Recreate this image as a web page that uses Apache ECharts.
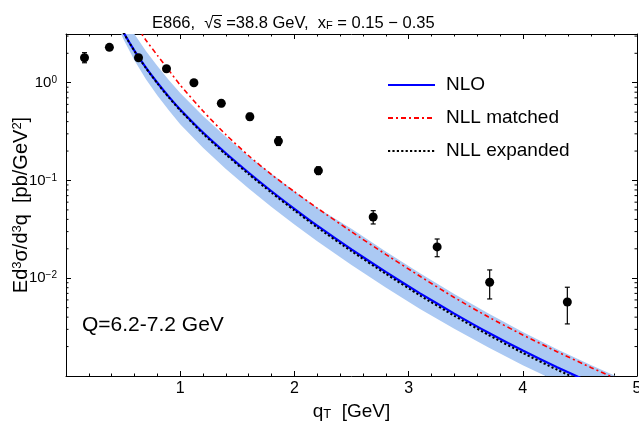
<!DOCTYPE html>
<html><head><meta charset="utf-8">
<script src="https://cdn.jsdelivr.net/npm/echarts@6/dist/echarts.min.js"></script>
<style>html,body{margin:0;padding:0;background:#fff}#c{width:639px;height:422px}</style>
</head><body><div id="c"></div>
<script>
// ---- data ----
const qT        = [0.45, 0.5, 0.6, 0.7, 0.8, 0.9, 1.0, 1.2, 1.4, 1.6, 1.8, 2.0, 2.2, 2.5, 2.8, 3.1, 3.4, 3.7, 4.0, 4.3, 4.6, 4.9];
const nlo       = [4.34, 3.33, 2.12, 1.43, 1.00, 0.721, 0.532, 0.309, 0.190, 0.120, 0.0776, 0.0513, 0.0345, 0.0197, 0.0116, 0.00700, 0.00435, 0.00277, 0.00182, 0.00123, 0.000851, 0.000603];
const nllExp    = [4.30, 3.30, 2.10, 1.41, 0.985, 0.708, 0.521, 0.301, 0.184, 0.116, 0.0748, 0.0494, 0.0331, 0.0189, 0.0111, 0.00666, 0.00413, 0.00263, 0.00172, 0.00116, 0.000804, 0.000570];
const nllMatch  = [8.07, 6.34, 4.05, 2.72, 1.905, 1.343, 0.946, 0.513, 0.294, 0.179, 0.1148, 0.0767, 0.0522, 0.0299, 0.01754, 0.01047, 0.00635, 0.00401, 0.00263, 0.001774, 0.001216, 0.000851];
const bandUpper = [6.27, 4.86, 3.14, 2.11, 1.479, 1.067, 0.787, 0.457, 0.2805, 0.177, 0.1175, 0.0776, 0.0525, 0.0320, 0.01879, 0.01122, 0.00689, 0.00435, 0.00282, 0.00188, 0.001288, 0.000902];
const bandLower = [3.86, 2.83, 1.687, 1.084, 0.741, 0.522, 0.377, 0.2163, 0.1312, 0.0828, 0.0537, 0.0355, 0.0239, 0.01365, 0.00802, 0.00484, 0.00304, 0.00196, 0.001288, 0.000879, 0.000617, 0.000437];

const dataQ     = [0.162, 0.38, 0.635, 0.88, 1.12, 1.36, 1.61, 1.86, 2.21, 2.69, 3.25, 3.71, 4.39];
const dataVal   = [1.80, 2.30, 1.80, 1.39, 1.00, 0.615, 0.449, 0.253, 0.126, 0.0423, 0.0209, 0.0091, 0.00571];
const dataLo    = [1.60, 2.19, 1.72, 1.30, 0.95, 0.57, 0.415, 0.228, 0.115, 0.0359, 0.0166, 0.00614, 0.00341];
const dataHi    = [2.03, 2.42, 1.89, 1.49, 1.05, 0.66, 0.487, 0.280, 0.138, 0.0491, 0.0252, 0.01216, 0.00809];

const yMinorTicks = [0.002,0.003,0.004,0.005,0.006,0.007,0.008,0.009,
                     0.02,0.03,0.04,0.05,0.06,0.07,0.08,0.09,
                     0.2,0.3,0.4,0.5,0.6,0.7,0.8,0.9,2,3];
const xTickLabels = ['', '1', '2', '3', '4', '5'];
const seriesNames = ['NLO', 'NLL matched', 'NLL expanded'];

// ---- chart ----
const FONT = 'Liberation Sans, Arial, Helvetica, sans-serif';
const chart = echarts.init(document.getElementById('c'), null, {renderer: 'canvas'});
const X_MIN = 0, X_MAX = 5, Y_MIN = 0.001, Y_MAX = 3.15;

const supRich = {
  base: {fontSize: 15, fontFamily: FONT, color: '#000'},
  sup: {fontSize: 10, fontFamily: FONT, color: '#000', verticalAlign: 'top', lineHeight: 10, padding: [0,0,6,0]}
};

function zip3(a, b, c) { return a.map((v, i) => [v, b[i], c[i]]); }

const xAxisCommon = {
  type: 'value', min: X_MIN, max: X_MAX, interval: 1,
  axisLine: {show: true, onZero: false, lineStyle: {color: '#000', width: 1}},
  axisTick: {show: true, inside: true, length: 5, lineStyle: {color: '#000'}},
  minorTick: {show: true, splitNumber: 5, length: 2.5, lineStyle: {color: '#000'}},
  splitLine: {show: false}, minorSplitLine: {show: false}
};
const yAxisCommon = {
  type: 'log', logBase: 10, min: Y_MIN, max: Y_MAX,
  axisLine: {show: true, onZero: false, lineStyle: {color: '#000', width: 1}},
  axisTick: {show: true, inside: true, length: 5, lineStyle: {color: '#000'}},
  splitLine: {show: false}
};

function fmtLog(v) {
  const e = Math.round(Math.log10(v));
  if (Math.abs(v - Math.pow(10, e)) / Math.pow(10, e) > 1e-6) return '';
  if (e < -2 || e > 0) return '';
  const s = e < 0 ? '\u2212' + (-e) : String(e);
  return '{base|10}{sup|' + s + '}';
}

const option = {
  animation: false,
  backgroundColor: '#fff',
  grid: {left: 66, right: 2, top: 34, bottom: 46, containLabel: false, outerBoundsMode: 'none'},
  legend: {
    data: seriesNames, orient: 'vertical', left: 382, top: 70,
    itemWidth: 47, itemHeight: 12, itemGap: 13,
    itemStyle: {opacity: 0},
    textStyle: {fontSize: 19, fontFamily: FONT, color: '#000', lineHeight: 20, padding: [0,0,0,6]},
    selectedMode: false
  },
  xAxis: [
    Object.assign({}, xAxisCommon, {
      position: 'bottom',
      axisLabel: {show: true, color: '#000', fontSize: 16, fontFamily: FONT, margin: 5,
                  formatter: v => xTickLabels[Math.round(v)] || ''},
      name: 'q{sub|T}  [GeV]', nameLocation: 'middle', nameGap: 21,
      nameTextStyle: {fontSize: 19, fontFamily: FONT, color: '#000',
        rich: {sub: {fontSize: 13, fontFamily: FONT, color: '#000', verticalAlign: 'bottom', lineHeight: 13, padding: [6,0,0,0]}}}
    }),
    Object.assign({}, xAxisCommon, {position: 'top', axisLabel: {show: false}})
  ],
  yAxis: [
    Object.assign({}, yAxisCommon, {
      position: 'left',
      axisLabel: {show: true, margin: 9, formatter: fmtLog, rich: supRich},
      name: 'Ed{sup|3}\u03c3/d{sup|3}q  [pb/GeV{sup|2}]', nameLocation: 'middle', nameRotate: 90, nameGap: 35,
      nameMoveOverlap: false,
      nameTextStyle: {fontSize: 20, fontFamily: FONT, color: '#000',
        rich: {sup: {fontSize: 13, fontFamily: FONT, color: '#000', verticalAlign: 'top', lineHeight: 13, padding: [0,0,6,0]}}}
    }),
    Object.assign({}, yAxisCommon, {position: 'right', axisLabel: {show: false}})
  ],
  graphic: [
    {type: 'text', x: 152, y: 23, z: 100,
     style: {text: 'E866,  \u221as =38.8 GeV,  x{sub|F} = 0.15 \u2212 0.35', fontSize: 16.5, fontFamily: FONT, fill: '#000',
       align: 'left', verticalAlign: 'middle',
       rich: {sub: {fontSize: 11, fontFamily: FONT, fill: '#000', verticalAlign: 'bottom', lineHeight: 11, padding: [6,0,0,0]}}}},
    {type: 'line', z: 100, shape: {x1: 212.5, y1: 15.5, x2: 222, y2: 15.5}, style: {stroke: '#000', lineWidth: 1}},
    {type: 'text', x: 82, y: 325, z: 100,
     style: {text: 'Q=6.2-7.2 GeV', fontSize: 21, fontFamily: FONT, fill: '#000', verticalAlign: 'middle'}}
  ],
  series: [
    { // uncertainty band
      type: 'custom', name: 'band', silent: true, clip: true, z: 1,
      encode: {x: 0, y: [1, 2]},
      data: zip3(qT, bandLower, bandUpper),
      renderItem: function (params, api) {
        if (params.dataIndex !== 0) return null;
        const pts = [];
        for (let i = 0; i < qT.length; i++) pts.push(api.coord([qT[i], bandUpper[i]]));
        for (let i = qT.length - 1; i >= 0; i--) pts.push(api.coord([qT[i], bandLower[i]]));
        return {type: 'polygon', shape: {points: pts}, style: {fill: '#abc9f3', stroke: null}};
      }
    },
    {type: 'line', name: 'NLO', data: qT.map((x, i) => [x, nlo[i]]), symbol: 'none', showSymbol: false,
     smooth: 0.2, clip: true, z: 3, lineStyle: {color: '#0000ff', width: 2.2}, itemStyle: {color: '#0000ff'}},
    {type: 'line', name: 'NLL matched', data: qT.map((x, i) => [x, nllMatch[i]]), symbol: 'none', showSymbol: false,
     smooth: 0.2, clip: true, z: 3, lineStyle: {color: '#ff0000', width: 1.6, type: [5, 3, 2, 3]}, itemStyle: {color: '#ff0000'}},
    {type: 'line', name: 'NLL expanded', data: qT.map((x, i) => [x, nllExp[i]]), symbol: 'none', showSymbol: false,
     smooth: 0.2, clip: true, z: 4, lineStyle: {color: '#000', width: 2, type: [2.2, 2.2]}, itemStyle: {color: '#000'}},
    { // error bars
      type: 'custom', name: 'errors', silent: true, z: 5,
      encode: {x: 0, y: [1, 2]},
      data: zip3(dataQ, dataLo, dataHi),
      renderItem: function (params, api) {
        const x = api.value(0), top = api.coord([x, api.value(2)]), bot = api.coord([x, api.value(1)]);
        const c = 2.5, st = {stroke: '#000', lineWidth: 1.2};
        return {type: 'group', children: [
          {type: 'line', shape: {x1: top[0], y1: top[1], x2: bot[0], y2: bot[1]}, style: st},
          {type: 'line', shape: {x1: top[0] - c, y1: top[1], x2: top[0] + c, y2: top[1]}, style: st},
          {type: 'line', shape: {x1: bot[0] - c, y1: bot[1], x2: bot[0] + c, y2: bot[1]}, style: st}
        ]};
      }
    },
    {type: 'scatter', name: 'E866', data: dataQ.map((x, i) => [x, dataVal[i]]), symbol: 'circle', symbolSize: 9,
     z: 6, itemStyle: {color: '#000', opacity: 1}, silent: true},
    { // log minor ticks, left and right frame
      type: 'custom', name: 'minor', silent: true, z: 7,
      encode: {x: 0, y: 1},
      data: yMinorTicks.map(v => [X_MIN, v]),
      renderItem: function (params, api) {
        const v = api.value(1), l = api.coord([X_MIN, v]), r = api.coord([X_MAX, v]);
        const len = 2.5, st = {stroke: '#000', lineWidth: 1};
        return {type: 'group', children: [
          {type: 'line', shape: {x1: l[0], y1: l[1], x2: l[0] + len, y2: l[1]}, style: st},
          {type: 'line', shape: {x1: r[0], y1: r[1], x2: r[0] - len, y2: r[1]}, style: st}
        ]};
      }
    }
  ]
};
chart.setOption(option);
</script>
</body></html>
